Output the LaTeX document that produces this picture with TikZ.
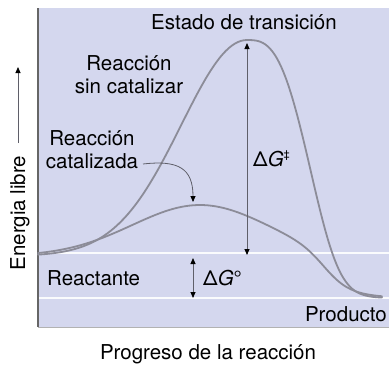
\documentclass[tikz,border=0pt]{standalone}
\usepackage{fontspec}
\setmainfont{TeX Gyre Heros}
\usetikzlibrary{arrows.meta}
\definecolor{panel}{RGB}{212,215,238}
\definecolor{curvecol}{RGB}{140,140,152}
\definecolor{shaft}{RGB}{95,95,105}
\tikzset{
  lbl/.style={inner sep=0pt, text=black},
  tipk/.tip={Triangle[length=6pt,width=5pt,color=black]},
  arr/.style={shaft, line width=0.8pt, -tipk},
  darr/.style={shaft, line width=0.8pt, tipk-tipk},
  curve/.style={curvecol, line width=1.8pt, line cap=round, line join=round},
  level/.style={white, line width=2.4pt, opacity=0.9},
  declare function={
    sg(\t)=1/(1+exp(-max(min((\t-325)/12,8),-8)));
    bs(\t)=256+42*sg(\t);
  }
}
\begin{document}
\begin{tikzpicture}[x=1pt,y=-1pt,font=\fontsize{20.5}{23}\selectfont]
\useasboundingbox (0,0) rectangle (389,365);
% panel
\fill[panel] (38,8) rectangle (389,327);
\draw[level] (38,253) -- (389,253);
\draw[level] (38,298) -- (389,298);
\draw[gray!80!black, line width=1.2pt] (38,8) -- (38,327);
\draw[gray!60, line width=0.8pt] (38,327) -- (389,327);
% uncatalysed curve
\draw[curve] plot[domain=38:247, samples=70, smooth]
    (\x, {bs(\x) - 216*exp(-((\x-247)/93)*((\x-247)/93))})
  -- plot[domain=247:382, samples=60, smooth]
    (\x, {bs(\x) - 216*exp(-((\x-247)/68)*((\x-247)/68)*((\x-247)/68))});
% catalysed curve
\draw[curve] plot[domain=38:382, samples=90, smooth]
    (\x, {bs(\x) - 51*exp(-((\x-200)/96)*((\x-200)/96))});
% arrows
\coordinate (peak) at (247,43);
\coordinate (rlev) at (247,255);
\coordinate (dga) at (193,258);
\coordinate (dgb) at (193,298);
\coordinate (catA) at (143,164);
\coordinate (catB) at (193,202);
\coordinate (eyA) at (18,143);
\coordinate (eyB) at (18,67);
\draw[darr] (rlev) -- (peak);
\draw[darr] (dga) -- (dgb);
\draw[arr] (catA) .. controls (178,160) and (193,168) .. (catB);
\draw[arr] (eyA) -- (eyB);
% labels
\node[lbl, anchor=base] (ts) at (244,29) {Estado de transición};
\node[lbl, align=center, anchor=base] (sc) at (129,93) {Reacción\\sin catalizar};
\node[lbl, align=center, anchor=base] (rc) at (92,168) {Reacción\\catalizada};
\node[lbl, anchor=base west] (dgt) at (253,166) {Δ\textit{G}\raisebox{0.35em}{\fontsize{11}{11}\selectfont ‡}};
\node[lbl, anchor=base west] (re) at (47,285) {Reactante};
\node[lbl, anchor=base west] (dgo) at (203,285) {Δ\textit{G}°};
\node[lbl, anchor=base east] (pr) at (387,321) {Producto};
\node[lbl, anchor=base] (xl) at (208,359) {Progreso de la reacción};
\node[lbl, anchor=base, rotate=90] (yl) at (25,213) {Energia libre};
\end{tikzpicture}
\end{document}
